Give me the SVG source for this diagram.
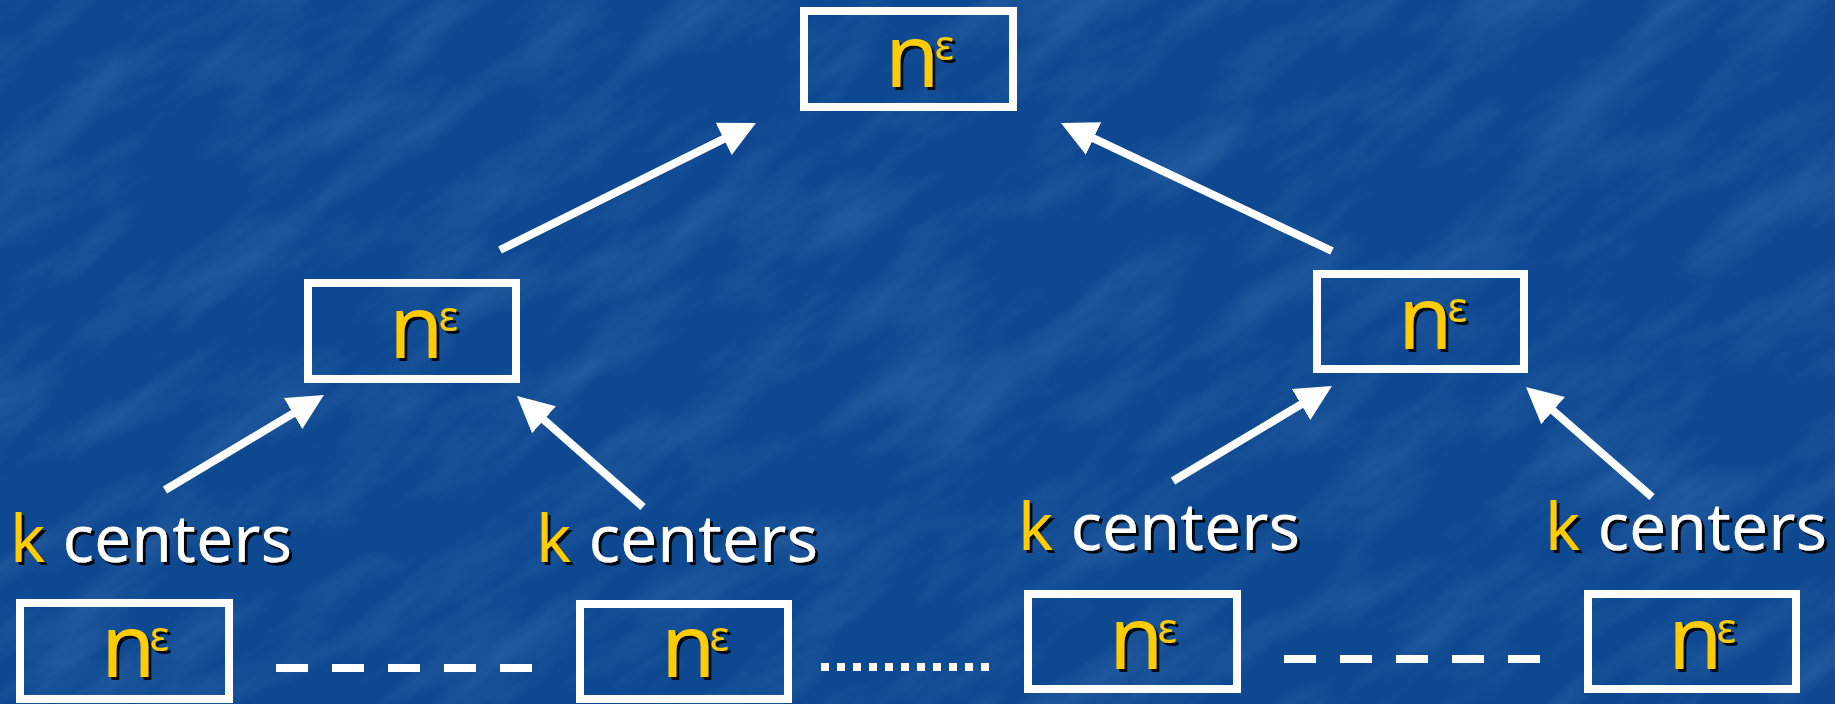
<svg xmlns="http://www.w3.org/2000/svg" width="1835" height="704" viewBox="0 0 1835 704">
  <defs>
    <style>
      .box { fill: none; stroke: #ffffff; stroke-width: 8; }
      .n { font-family: "Comic Sans MS", "Noto Sans", "DejaVu Sans", sans-serif; font-size: 88px; fill: #ffcc00; }
      .eps { font-family: "Noto Sans", "DejaVu Sans", sans-serif; font-size: 42px; }
      .lbl { font-family: "Comic Sans MS", "Noto Sans", "DejaVu Sans", sans-serif; font-size: 66px; fill: #ffffff; }
      .k { fill: #ffcc00; }
      .arrow { stroke: #ffffff; stroke-width: 8; fill: none; marker-end: url(#head); }
      .dash { stroke: #ffffff; stroke-width: 8; fill: none; }
    </style>
    <marker id="head" markerUnits="userSpaceOnUse" markerWidth="40" markerHeight="40" viewBox="0 -20 40 40" refX="4" refY="0" orient="auto">
      <path d="M0,-18 L36,0 L0,18 z" fill="#ffffff"/>
    </marker>
    <filter id="shadow" x="-20%" y="-20%" width="140%" height="140%">
      <feDropShadow dx="3" dy="3" stdDeviation="0.6" flood-color="#000000" flood-opacity="0.9"/>
    </filter>
    <!-- mottled backdrop texture -->
    <filter id="mottle" x="0" y="0" width="100%" height="100%">
      <feTurbulence type="fractalNoise" baseFrequency="0.006 0.02" numOctaves="4" seed="7" result="noise"/>
      <feColorMatrix in="noise" type="matrix" values="0 0 0 0 0.35  0 0 0 0 0.55  0 0 0 0 0.9  1.2 0 0 0 -0.5"/>
    </filter>
  </defs>

  <!-- backdrop -->
  <rect x="0" y="0" width="1835" height="704" fill="#0d4890"/>
  <g transform="rotate(-35 917 352)">
    <rect x="-600" y="-900" width="3000" height="2500" filter="url(#mottle)" opacity="0.3"/>
  </g>

  <!-- connectors -->
  <g id="connectors">
    <line class="arrow" x1="500" y1="250" x2="727.3" y2="137.2"/>
    <line class="arrow" x1="1332" y1="251" x2="1089.9" y2="136.7"/>
    <line class="arrow" x1="165" y1="490" x2="296.5" y2="411.4"/>
    <line class="arrow" x1="643" y1="507" x2="541" y2="417.2"/>
    <line class="arrow" x1="1173" y1="481" x2="1304.5" y2="402.4"/>
    <line class="arrow" x1="1652" y1="497" x2="1550.1" y2="408"/>
    <line class="dash" x1="276" y1="668" x2="533" y2="668" stroke-dasharray="32 24"/>
    <line class="dash" x1="821" y1="667" x2="989" y2="667" stroke-dasharray="8 8"/>
    <line class="dash" x1="1284" y1="659" x2="1541" y2="659" stroke-dasharray="32 24"/>
  </g>

  <!-- root -->
  <g id="root">
    <rect class="box" x="804" y="11" width="209" height="96"/>
    <text class="n" x="885" y="87" filter="url(#shadow)">n<tspan class="eps" dx="-5" dy="-27">ε</tspan></text>
  </g>

  <!-- middle level -->
  <g id="mid-left">
    <rect class="box" x="308" y="283" width="208" height="96"/>
    <text class="n" x="389" y="358" filter="url(#shadow)">n<tspan class="eps" dx="-5" dy="-27">ε</tspan></text>
  </g>
  <g id="mid-right">
    <rect class="box" x="1317" y="274" width="207" height="95"/>
    <text class="n" x="1398" y="349" filter="url(#shadow)">n<tspan class="eps" dx="-5" dy="-27">ε</tspan></text>
  </g>

  <!-- "k centers" labels -->
  <text id="label-1" class="lbl" x="10" y="562" filter="url(#shadow)"><tspan class="k">k</tspan> centers</text>
  <text id="label-2" class="lbl" x="536" y="562" filter="url(#shadow)"><tspan class="k">k</tspan> centers</text>
  <text id="label-3" class="lbl" x="1018" y="550" filter="url(#shadow)"><tspan class="k">k</tspan> centers</text>
  <text id="label-4" class="lbl" x="1545" y="550" filter="url(#shadow)"><tspan class="k">k</tspan> centers</text>

  <!-- leaves -->
  <g id="leaf-1">
    <rect class="box" x="20" y="603" width="209" height="96"/>
    <text class="n" x="101" y="677" filter="url(#shadow)">n<tspan class="eps" dx="-6" dy="-26">ε</tspan></text>
  </g>
  <g id="leaf-2">
    <rect class="box" x="580" y="604" width="208" height="95"/>
    <text class="n" x="661" y="677" filter="url(#shadow)">n<tspan class="eps" dx="-6" dy="-26">ε</tspan></text>
  </g>
  <g id="leaf-3">
    <rect class="box" x="1028" y="594" width="209" height="95"/>
    <text class="n" x="1109" y="669" filter="url(#shadow)">n<tspan class="eps" dx="-6" dy="-26">ε</tspan></text>
  </g>
  <g id="leaf-4">
    <rect class="box" x="1588" y="594" width="208" height="95"/>
    <text class="n" x="1668" y="669" filter="url(#shadow)">n<tspan class="eps" dx="-6" dy="-26">ε</tspan></text>
  </g>
</svg>
